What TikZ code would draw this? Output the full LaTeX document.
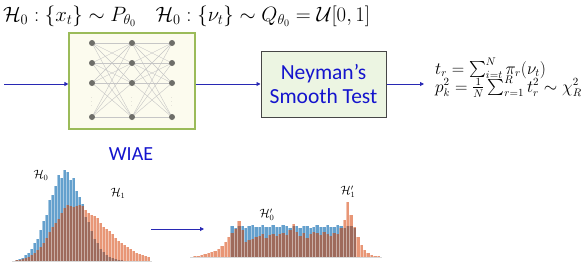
\documentclass[tikz,border=0pt]{standalone}
\usepackage{amsmath,amssymb}
\usepackage{fontspec}
\newfontfamily\calibri{Carlito}
\usetikzlibrary{arrows.meta}
\definecolor{arrowblue}{RGB}{40,40,180}
\definecolor{textblue}{RGB}{20,20,205}
\definecolor{nnfill}{RGB}{252,251,238}
\definecolor{nnborder}{RGB}{155,187,89}
\definecolor{nsfill}{RGB}{236,245,226}
\definecolor{nsborder}{RGB}{70,70,70}
\definecolor{hblue}{RGB}{100,160,205}
\definecolor{horange}{RGB}{232,150,118}
\definecolor{hbrown}{RGB}{158,106,92}
\definecolor{nngray}{RGB}{110,110,105}
\tikzset{
  flow/.style={draw=arrowblue, line width=0.9pt, -{Triangle[length=4pt,width=4pt]}},
  neuron/.style={circle, fill=nngray, inner sep=0pt, minimum size=6pt},
  syn/.style={draw=gray!45, line width=0.4pt},
  bar/.style={draw=white, draw opacity=0.45, line width=0.2pt},
  hlabel/.style={font=\fontsize{12}{14}\selectfont, inner sep=0pt},
  formula/.style={anchor=base west, inner sep=0pt, font=\fontsize{16}{18}\selectfont},
}
\begin{document}
\begin{tikzpicture}[x=1pt,y=-1pt]
\useasboundingbox (0,0) rectangle (582,266);

% title
\node[anchor=west, inner sep=0pt, font=\fontsize{19.5}{22}\selectfont] (title) at (3,16)
  {$\mathcal{H}_0:\{x_t\}\sim P_{\theta_0}\quad \mathcal{H}_0:\{\nu_t\}\sim Q_{\theta_0}=\mathcal{U}[0,1]$};

% WIAE box
\node[draw=nnborder, fill=nnfill, line width=1.2pt, minimum width=126pt, minimum height=96pt, inner sep=0pt] (wiae) at (132,81) {};
\foreach \c/\x in {1/92,2/132,3/172}{
  \foreach \r/\y in {1/43,2/63,3/83,5/117}{
    \coordinate (n\c\r) at (\x,\y);
  }
}
\foreach \a in {1,2,3,5}{
  \foreach \b in {1,2,3,5}{
    \draw[syn] (n1\a) -- (n2\b);
    \draw[syn] (n2\a) -- (n3\b);
  }
}
\foreach \c/\x in {1/92,2/132,3/172}{
  \foreach \r in {1,2,3,5}{
    \node[neuron] (m\c\r) at (n\c\r) {};
  }
  \node[inner sep=0pt, text=gray, font=\tiny] (d\c) at (\x,99) {$\vdots$};
}
\node[font=\calibri\fontsize{20}{24}\selectfont, text=textblue, inner sep=0pt] (wlabel) at (131,154) {WIAE};

% Neyman box
\node[draw=nsborder, fill=nsfill, line width=1pt, minimum width=125pt, minimum height=66pt, align=center,
      font=\calibri\fontsize{21.5}{24.5}\selectfont, text=textblue, inner sep=0pt] (ns) at (323.5,84)
  {Neyman’s\\Smooth Test};

% arrows
\coordinate (src) at (4,84);
\coordinate (out) at (424,84);
\draw[flow] (src) -- (wiae.west |- src);
\draw[flow] (wiae.east |- ns.west) -- (ns.west);
\draw[flow] (ns.east) -- (out);

% formula
\node[formula] (f1) at (435,74) {$t_r=\sum_{i=t}^{N}\pi_r(\nu_t)$};
\node[formula] (f2) at (435,92) {$p_k^2=\frac{1}{N}\sum_{r=1}^{R}t_r^2\sim\chi_R^2$};

% left histogram
\draw[gray!30, line width=0.8pt] (12,261) -- (152,261);
\foreach \i in {0,...,44}{
  \pgfmathsetmacro\xx{15+3*\i}
  \pgfmathsetmacro\cc{\xx+1.5}
  \pgfmathsetmacro\hb{(\cc<65) ? 89*exp(-((\cc-65)^2)/560) : 89*exp(-((\cc-65)^2)/640)}
  \pgfmathsetmacro\hbb{\hb*(1+0.05*sin(137*\i))}
  \pgfmathsetmacro\ho{(\cc<72) ? 56*exp(-((\cc-72)^2)/722) : 56*exp(-((\cc-72)^2)/2178)}
  \pgfmathsetmacro\hoo{\ho*(1+0.03*sin(71*\i))}
  \pgfmathsetmacro\hm{min(\hbb,\hoo)}
  \pgfmathsetmacro\xe{\xx+3}
  \ifdim\hbb pt>0.6pt \fill[hblue] (\xx,261) rectangle (\xe,261-\hbb); \fi
  \ifdim\hoo pt>0.6pt \fill[horange] (\xx,261) rectangle (\xe,261-\hoo); \fi
  \ifdim\hm pt>0.6pt \fill[hbrown] (\xx,261) rectangle (\xe,261-\hm); \fi
  \pgfmathsetmacro\hx{max(\hbb,\hoo)}
  \ifdim\hx pt>0.6pt \draw[bar] (\xx,261) -- (\xx,261-\hx); \fi
}
\node[hlabel] (lh0) at (41,175) {$\mathcal{H}_0$};
\node[hlabel] (lh1) at (118,193) {$\mathcal{H}_1$};

% arrow between histograms
\coordinate (ha) at (151,229);
\coordinate (hb) at (204,229);
\draw[flow] (ha) -- (hb);

% right histogram
\draw[gray!30, line width=0.8pt] (190,257) -- (382,257);
\foreach \o [count=\k from 0] in {1,1.5,2,3,4,5,6,8,11,15,20,24,28,36,27,15,17,18,20,21,23,19,22,23,21,23,24,22,27,33,25,21,24,19,23,25,24,22,25,23,21,24,23,29,37,55,42,30,20,12,7,4,2.5,1.5,1}{
  \pgfmathsetmacro\xx{193+3.4*\k}
  \pgfmathsetmacro\xe{\xx+3.4}
  \pgfmathsetmacro\hbb{(\k>10 && \k<48) ? 30.5+1.2*sin(113*\k) : 0}
  \pgfmathsetmacro\hm{min(\hbb,\o)}
  \ifdim\hbb pt>0.6pt \fill[hblue] (\xx,257) rectangle (\xe,257-\hbb); \fi
  \fill[horange] (\xx,257) rectangle (\xe,257-\o);
  \ifdim\hm pt>0.6pt \fill[hbrown] (\xx,257) rectangle (\xe,257-\hm); \fi
  \pgfmathsetmacro\hx{max(\hbb,\o)}
  \draw[bar] (\xx,257) -- (\xx,257-\hx);
}
\node[hlabel] (rh0) at (267,215) {$\mathcal{H}_0'$};
\node[hlabel] (rh1) at (348,192) {$\mathcal{H}_1'$};
\end{tikzpicture}
\end{document}
